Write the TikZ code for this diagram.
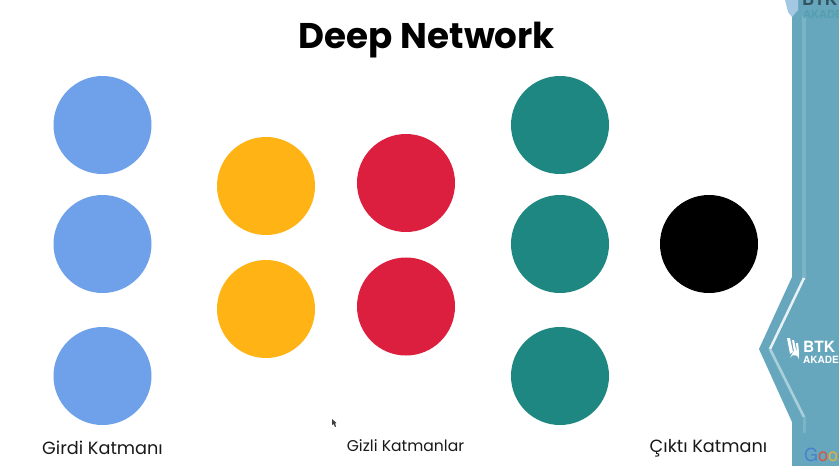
\documentclass[tikz,border=0pt]{standalone}
\usepackage{fontspec}
\setmainfont{Poppins}
\newfontfamily\heros{TeX Gyre Heros}
\definecolor{cblue}{HTML}{6FA1EA}
\definecolor{cyellow}{HTML}{FFB315}
\definecolor{cred}{HTML}{DC1F3E}
\definecolor{cteal}{HTML}{1F8782}
\definecolor{panel}{HTML}{66A7BD}
\definecolor{bandc}{HTML}{7BB3C7}
\tikzset{
  neuron/.style={circle,minimum size=98pt,inner sep=0pt,fill=#1},
  lbl/.style={font=\fontsize{17.7pt}{20pt}\selectfont,text=black!90,inner sep=0pt},
}
\begin{document}
\begin{tikzpicture}[x=1pt,y=-1pt]
\useasboundingbox (0,0) rectangle (839,466);
\clip (0,0) rectangle (839,466);
\fill[white] (0,0) rectangle (839,466);
% side panel
\fill[panel] (792,0) -- (792,277) -- (759,349) -- (792,422) -- (792,466) -- (839,466) -- (839,0) -- cycle;
\draw[bandc,line width=3.5pt] (804,16) -- (804,280);
\draw[white!85!panel,line width=2.5pt,line join=round] (804,278) -- (770,349);
\draw[white!45!panel,line width=2.5pt,line join=round] (770,349) -- (804,417);
\draw[bandc,line width=3pt] (804,417) -- (804,433);
% panel logos
\fill[white!55!cblue!70!panel] (785,0) -- (798,0) -- (798,10) -- (792,17) -- (788,12) -- cycle;
\node[anchor=west,inner sep=0pt,text=black!50!panel,font=\heros\bfseries\fontsize{17pt}{17pt}\selectfont] (logotop) at (802,-1) {BTK};
\node[anchor=west,inner sep=0pt,text=cteal!25!panel,font=\heros\bfseries\fontsize{11pt}{11pt}\selectfont] (logotopb) at (803,13) {AKADEMİ};
\fill[white] (787,338) -- (790,338) -- (793,352) -- (790,354) -- cycle
  (792,340) -- (794,340) -- (796,350) -- (794,352) -- cycle
  (796,343) -- (798,343) -- (799,352) -- (797,354) -- cycle;
\fill[white] (790,358) arc (200:360:4.6) -- (799,353) arc (0:-150:3) -- cycle;
\node[anchor=west,inner sep=0pt,text=white,font=\heros\bfseries\fontsize{15.5pt}{15.5pt}\selectfont] (btk) at (803,347) {BTK};
\node[anchor=west,inner sep=0pt,text=white,font=\heros\bfseries\fontsize{10pt}{10pt}\selectfont] (akad) at (803,359) {AKADEMİ};
\node[anchor=west,inner sep=0pt,font=\heros\fontsize{18pt}{18pt}\selectfont] (goog) at (804,457) {\textcolor[HTML]{4A7FD0}{G}\textcolor[HTML]{D9543F}{o}\textcolor[HTML]{E0B33A}{o}\textcolor[HTML]{4A7FD0}{g}\textcolor[HTML]{4FA05A}{l}\textcolor[HTML]{D9543F}{e}};
% title
\node[inner sep=0pt,font=\fontsize{35.7pt}{40pt}\selectfont\bfseries] (title) at (427,40) {Deep Network};
% neurons
\node[neuron=cblue] (i1) at (102.5,125) {};
\node[neuron=cblue] (i2) at (102.5,244) {};
\node[neuron=cblue] (i3) at (102.5,376) {};
\node[neuron=cyellow] (h1) at (266,186) {};
\node[neuron=cyellow] (h2) at (266,309) {};
\node[neuron=cred] (r1) at (406,183) {};
\node[neuron=cred] (r2) at (406,306.5) {};
\node[neuron=cteal] (t1) at (560,125) {};
\node[neuron=cteal] (t2) at (560,244) {};
\node[neuron=cteal] (t3) at (560,376) {};
\node[neuron=black] (o1) at (709,244) {};
% labels
\node[lbl] (l1) at (102.5,448) {Girdi Katmanı};
\node[lbl,font=\fontsize{15.6pt}{18pt}\selectfont] (l2) at (405.5,446) {Gizli Katmanlar};
\node[lbl] (l3) at (708.5,448) {Çıktı Katmanı};
% cursor
\fill[black!75] (332,419) -- (332,425) -- (333.5,424) -- (335,427) -- (336,426.5) -- (335,423.5) -- (336.5,423) -- cycle;
\end{tikzpicture}
\end{document}
